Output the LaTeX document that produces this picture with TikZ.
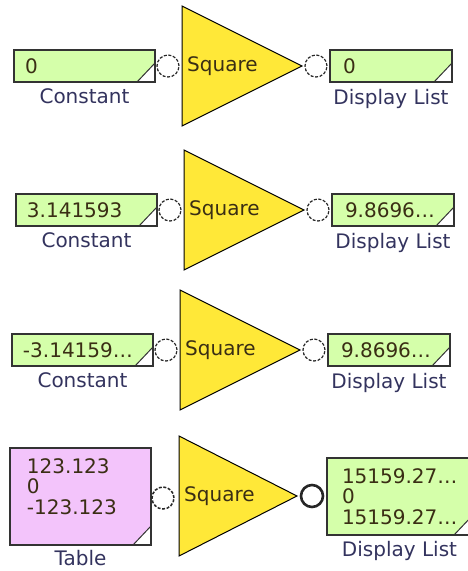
\documentclass[tikz,border=0pt]{standalone}
\usepackage{fontspec}
\setmainfont{DejaVu Sans}
\usetikzlibrary{positioning}
\definecolor{BoxGreen}{HTML}{D5FFAA}
\definecolor{BoxPink}{HTML}{F3C4FB}
\definecolor{OpYellow}{HTML}{FFE838}
\definecolor{ValInk}{HTML}{3A2E14}
\definecolor{TagInk}{HTML}{33335E}
\newcommand{\dogear}{%
  \fill[white] ([xshift=-18pt]path picture bounding box.south east)
    -- (path picture bounding box.south east)
    -- ([yshift=19pt]path picture bounding box.south east) -- cycle;
  \draw[black!80, line width=1pt] ([xshift=-18pt]path picture bounding box.south east)
    -- ([yshift=19pt]path picture bounding box.south east);}

\begin{document}
\begin{tikzpicture}[x=1pt, y=-1pt, font=\fontsize{20}{20.5}\selectfont,
  valbox/.style={draw=black!80, line width=1.6pt, fill=BoxGreen, text=ValInk,
                 align=left, inner ysep=0pt, minimum height=32pt,
                 path picture=\dogear},
  tablebox/.style={valbox, fill=BoxPink},
  port/.style={circle, draw=black!85, line width=1.2pt,
               dash pattern=on 3pt off 1.6pt, fill=white,
               minimum size=22pt, inner sep=0pt},
  tag/.style={text=TagInk, inner sep=0pt},
  squareop/.style={draw=black, line width=1pt, fill=OpYellow},
  optext/.style={anchor=west, inner sep=0pt, text=ValInk}
]
\useasboundingbox (0,0) rectangle (468,571);
\clip (0,0) rectangle (468,571);

% constant -> square -> display
\foreach \n/\yc/\dx/\val/\res in {1/66/0/0/0,
    2/210/2/3.141593/9.8696\ldots,
    3/350/-2/-3.14159\ldots/9.8696\ldots}{
  \begin{scope}[xshift=\dx pt]
  \node[valbox, text width=119pt, inner xsep=11pt] (const\n) at (84.5,\yc) {\val};
  \node[tag, below=6pt of const\n] (const\n tag) {Constant};
  \node[port] (in\n) at (168,\yc) {};
  \draw[squareop] (182,\yc-60) -- (302,\yc) -- (182,\yc+60) -- cycle;
  \node[optext] (sq\n) at (187,\yc) {Square};
  \node[port] (out\n) at (316,\yc) {};
  \node[valbox, text width=96pt, inner xsep=13pt] (disp\n) at (391,\yc) {\res};
  \node[tag, below=6pt of disp\n] (disp\n tag) {Display List};
  \end{scope}
}

% table -> square -> display
\node[tablebox, text width=107pt, inner xsep=17pt, minimum height=97pt]
  (tbl) at (80.5,496.5) {123.123\\0\\-123.123\\\mbox{}};
\node[tag, below=4pt of tbl] (tbltag) {Table};
\node[port, line width=1.5pt] (in4) at (163,498) {};
\draw[squareop] (179,436) -- (297,496) -- (179,556) -- cycle;
\node[optext] (sq4) at (184,496) {Square};
\node[port, solid, line width=2.6pt] (out4) at (312,496) {};
\node[valbox, text width=115pt, inner xsep=15pt, minimum height=77pt]
  (disp4) at (399.5,496.5) {15159.27\ldots\\0\\15159.27\ldots};
\node[tag, below=5pt of disp4] (disp4tag) {Display List};
\end{tikzpicture}
\end{document}
